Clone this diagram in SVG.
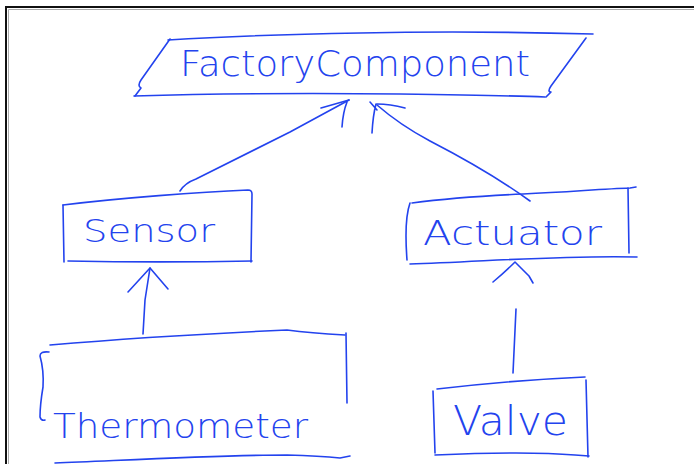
<svg xmlns="http://www.w3.org/2000/svg" width="694" height="464" viewBox="0 0 694 464">
<style>
.ink{fill:none;stroke:#2343ee;stroke-width:1.6;stroke-linecap:round;stroke-linejoin:round}
.lbl{fill:#2343ee;font-family:"DejaVu Sans","Liberation Sans",sans-serif;font-weight:200}
</style>
<rect width="694" height="464" fill="#ffffff"/>
<g id="frame">
<path d="M6,464 V7 H694" fill="none" stroke="#111" stroke-width="2"/>
<path d="M8.5,464 V9.5 H694" fill="none" stroke="#aaa" stroke-width="1"/>
</g>
<g id="factory-component">
<path class="ink" d="M168,40 C230,36 300,34 360,33 C450,31 520,32 593,34"/>
<path class="ink" d="M170,39 L141,80 Q137,86 141,88 L135,96"/>
<path class="ink" d="M134,96 C200,94 300,93 400,94 C470,95 520,96 545,97"/>
<path class="ink" d="M586,38 L551,86 Q547,92 551,92 L546,97"/>
<text class="lbl" x="180" y="76" font-size="35" textLength="350" lengthAdjust="spacingAndGlyphs">FactoryComponent</text>
</g>
<g id="sensor">
<path class="ink" d="M63,205 C120,198 200,192 248,190 Q252,190 252,194 L251,262"/>
<path class="ink" d="M63,205 L64,262"/>
<path class="ink" d="M68,261 C120,262 200,262 252,261"/>
<text class="lbl" x="83" y="242" font-size="32" textLength="132" lengthAdjust="spacingAndGlyphs">Sensor</text>
</g>
<g id="actuator">
<path class="ink" d="M412,203 C450,198 480,196 523,194 C570,192 600,189 630,188 L636,187"/>
<path class="ink" d="M628,188 L629,253"/>
<path class="ink" d="M410,203 Q404,220 407,260"/>
<path class="ink" d="M410,264 C480,262 560,255 637,257"/>
<text class="lbl" x="423" y="245" font-size="34" textLength="179" lengthAdjust="spacingAndGlyphs">Actuator</text>
</g>
<g id="thermometer">
<path class="ink" d="M50,345 C120,339 220,333 287,330 Q310,333 345,335"/>
<path class="ink" d="M346,333 L347,403"/>
<path class="ink" d="M49,352 Q40,351 40,356 Q44,370 43,387 Q40,405 40,417 Q41,421 45,420"/>
<path class="ink" d="M55,463 C130,460 220,455 287,455 Q320,456 340,458 L350,456"/>
<text class="lbl" x="53" y="438" font-size="33" textLength="255" lengthAdjust="spacingAndGlyphs">Thermometer</text>
</g>
<g id="valve">
<path class="ink" d="M437,389 C480,384 540,379 585,377"/>
<path class="ink" d="M433,391 L435,453"/>
<path class="ink" d="M586,380 L588,457"/>
<path class="ink" d="M435,455 C480,453 540,452 575,455 L589,456"/>
<text class="lbl" x="453" y="435" font-size="40" textLength="115" lengthAdjust="spacingAndGlyphs">Valve</text>
</g>
<g id="connectors">
<path class="ink" d="M180,191 Q185,183 196,179 L290,132 L349,100"/>
<path class="ink" d="M321,108 L349,100 M342,127 Q343,112 347,102"/>
<path class="ink" d="M377,105 Q400,125 430,141 Q490,172 530,201"/>
<path class="ink" d="M405,108 Q390,104 377,104 M376,104 Q373,115 372,133 M370,102 L377,110"/>
<path class="ink" d="M143,334 L145,300 L150,268"/>
<path class="ink" d="M128,292 L150,268 L168,289"/>
<path class="ink" d="M516,309 L513,373"/>
<path class="ink" d="M493,282 Q505,272 515,262 Q525,272 529,276 L533,283"/>
</g>
</svg>
